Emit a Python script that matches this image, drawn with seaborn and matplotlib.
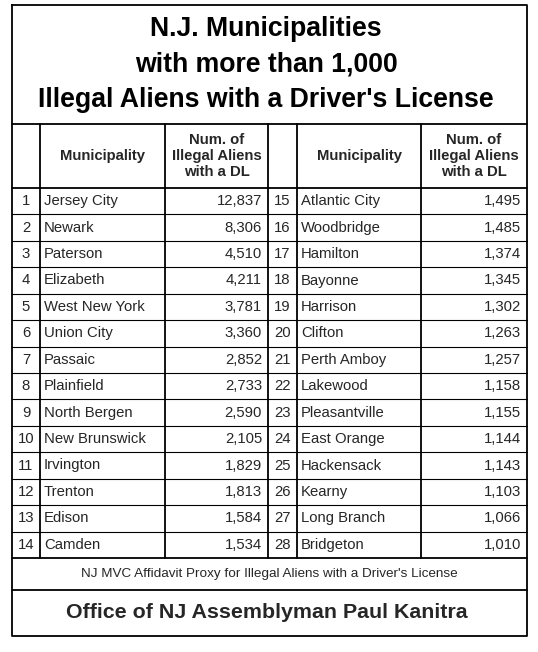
import matplotlib
matplotlib.use("Agg")
import matplotlib.pyplot as plt
import seaborn as sns

sns.set_style("white")
plt.rcParams['font.family'] = ['Liberation Sans', 'DejaVu Sans']

ranks_left = list(range(1, 15))
names_left = ["Jersey City", "Newark", "Paterson", "Elizabeth", "West New York",
              "Union City", "Passaic", "Plainfield", "North Bergen", "New Brunswick",
              "Irvington", "Trenton", "Edison", "Camden"]
counts_left = [12837, 8306, 4510, 4211, 3781, 3360, 2852, 2733, 2590, 2105,
               1829, 1813, 1584, 1534]
ranks_right = list(range(15, 29))
names_right = ["Atlantic City", "Woodbridge", "Hamilton", "Bayonne", "Harrison",
               "Clifton", "Perth Amboy", "Lakewood", "Pleasantville", "East Orange",
               "Hackensack", "Kearny", "Long Branch", "Bridgeton"]
counts_right = [1495, 1485, 1374, 1345, 1302, 1263, 1257, 1158, 1155, 1144,
                1143, 1103, 1066, 1010]

title_lines = ["N.J. Municipalities", "with more than 1,000",
               "Illegal Aliens with a Driver's License"]
header_name = "Municipality"
header_count = "Num. of\nIllegal Aliens\nwith a DL"
footer = "NJ MVC Affidavit Proxy for Illegal Aliens with a Driver's License"
office = "Office of NJ Assemblyman Paul Kanitra"

W, H = 538, 652
fig = plt.figure(figsize=(W / 100, H / 100), dpi=100)
ax = fig.add_axes([0, 0, 1, 1])
ax.set_xlim(0, W)
ax.set_ylim(H, 0)
ax.axis("off")

left, right = 12, 527
top, bottom = 5, 636
y_head, y_data = 124, 188
y_foot, y_office = 558, 590
row_h = (y_foot - y_data) / 14
cols = [12, 40, 165, 268, 297, 421, 527]
lw = 1.3

ax.plot([left, right, right, left, left], [top, top, bottom, bottom, top], color="black", lw=lw)
for y in [y_head, y_data, y_foot, y_office]:
    ax.plot([left, right], [y, y], color="black", lw=lw)
for x in cols[1:-1]:
    ax.plot([x, x], [y_head, y_foot], color="black", lw=lw)
for i in range(1, 14):
    y = y_data + i * row_h
    ax.plot([left, right], [y, y], color="black", lw=0.8)

for i, t in enumerate(title_lines):
    ax.text(W / 2 - 3, 29 + i * 35.5, t, ha="center", va="center", fontsize=19.2,
            fontweight="bold", color="black")

for c0, c1, c2 in [(cols[1], cols[2], cols[3]), (cols[4], cols[5], cols[6])]:
    ax.text((c0 + c1) / 2, (y_head + y_data) / 2, header_name, ha="center", va="center",
            fontsize=10.7, fontweight="bold")
    ax.text((c1 + c2) / 2, (y_head + y_data) / 2, header_count, ha="center", va="center",
            fontsize=10.7, fontweight="bold", linespacing=1.2)

for ranks, names, counts, k in [(ranks_left, names_left, counts_left, 0),
                                (ranks_right, names_right, counts_right, 3)]:
    for i, (r, n, c) in enumerate(zip(ranks, names, counts)):
        yc = y_data + (i + 0.5) * row_h
        ax.text((cols[k] + cols[k + 1]) / 2, yc, str(r), ha="center", va="center", fontsize=10.7)
        ax.text(cols[k + 1] + 4, yc, n, ha="left", va="center", fontsize=10.7)
        ax.text(cols[k + 3] - 6, yc, f"{c:,}", ha="right", va="center", fontsize=10.7)

ax.text(W / 2, (y_foot + y_office) / 2, footer, ha="center", va="center", fontsize=9.7)
ax.text(W / 2 - 2, (y_office + bottom) / 2, office, ha="center", va="center", fontsize=15.4,
        fontweight="bold")

fig.savefig("out.png", dpi=100)
